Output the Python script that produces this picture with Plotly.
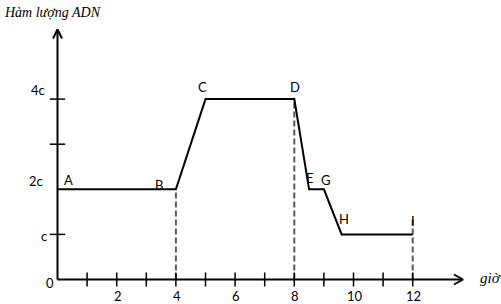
import plotly.graph_objects as go

# ---- data ----
time_h = [0, 4, 5, 8, 8.5, 9, 9.6, 12]
adn = [2, 2, 4, 4, 2, 2, 1, 1]
point_labels = ["A", "B", "C", "D", "E", "G", "H", "I"]

dashed_x = [4, 8, 12]
dashed_top = [2, 4, 1.4]

x_minor_ticks = list(range(1, 13))
x_tick_vals = [2, 4, 6, 8, 10, 12]
x_tick_text = ["2", "4", "6", "8", "10", "12"]

y_minor_ticks = [1, 3, 4]
y_tick_vals = [0, 1, 2, 4]
y_tick_text = ["0", "c", "2c", "4c"]

y_title = "Hàm lượng ADN"
x_title = "giờ"

# ---- geometry / style ----
W, H = 501, 304
X0, SX = 57.5, 29.6   # pixel of x=0, px per hour
Y0, SY = 279.5, 45.1  # pixel of y=0, px per c

def dx(px):
    return px / SX

def dy(px):
    return px / SY

xr = [-X0 / SX, (W - X0) / SX]
yr = [-(H - Y0) / SY, Y0 / SY]

x_axis_end = (463 - X0) / SX
y_axis_end = (Y0 - 29.5) / SY

label_shifts = [(10.5, 9), (-17, 4), (-3.5, 12), (0.7, 12), (1, 11), (2, 9), (2, 15), (0.5, 13)]
ytick_shifts = [(-7.5, -3.5), (-13.5, -1.5), (-21.5, 8), (-19.5, 9)]

sans = "Lato, 'Open Sans', sans-serif"
serif = "'Liberation Serif', 'DejaVu Serif', serif"

fig = go.Figure()

# dashed guides
for xv, top in zip(dashed_x, dashed_top):
    fig.add_trace(go.Scatter(x=[xv, xv], y=[0, top], mode="lines",
                             line=dict(color="#5a5a5a", width=2, dash="6px,3px"),
                             hoverinfo="skip", showlegend=False))

# axes
fig.add_trace(go.Scatter(x=[0, x_axis_end], y=[0, 0], mode="lines",
                         line=dict(color="black", width=2), showlegend=False))
fig.add_trace(go.Scatter(x=[0, 0], y=[0, y_axis_end], mode="lines",
                         line=dict(color="black", width=2), showlegend=False))
# arrowheads
fig.add_trace(go.Scatter(x=[x_axis_end - dx(9), x_axis_end, x_axis_end - dx(9)],
                         y=[dy(5), 0, -dy(5)], mode="lines",
                         line=dict(color="black", width=2), showlegend=False))
fig.add_trace(go.Scatter(x=[-dx(4.5), 0, dx(4.5)],
                         y=[y_axis_end - dy(9), y_axis_end, y_axis_end - dy(9)], mode="lines",
                         line=dict(color="black", width=2), showlegend=False))

# ticks
fig.add_trace(go.Scatter(x=x_minor_ticks, y=[0] * len(x_minor_ticks), mode="markers",
                         marker=dict(symbol="line-ns", size=10, line=dict(color="black", width=1.5)),
                         showlegend=False))
fig.add_trace(go.Scatter(x=[0] * len(y_minor_ticks), y=y_minor_ticks, mode="markers",
                         marker=dict(symbol="line-ew", size=11, line=dict(color="black", width=1.5)),
                         showlegend=False))

# main curve
fig.add_trace(go.Scatter(x=time_h, y=adn, mode="lines",
                         line=dict(color="black", width=2), showlegend=False))

annotations = []
for xv, yv, t, (sx, sy) in zip(time_h, adn, point_labels, label_shifts):
    annotations.append(dict(x=xv, y=yv, text=t, showarrow=False, xshift=sx, yshift=sy,
                            font=dict(family=sans, size=13, color="black")))
for v, t in zip(x_tick_vals, x_tick_text):
    annotations.append(dict(x=v, y=0, text=t, showarrow=False, xshift=1, yshift=-16.5,
                            font=dict(family=sans, size=13, color="black")))
for v, t, (sx, sy) in zip(y_tick_vals, y_tick_text, ytick_shifts):
    annotations.append(dict(x=0, y=v, text=t, showarrow=False, xshift=sx, yshift=sy,
                            font=dict(family=sans, size=13, color="black")))
annotations.append(dict(x=0, y=y_axis_end, text="<i>" + y_title + "</i>", showarrow=False,
                        xanchor="left", yanchor="middle", xshift=-X0 + 2, yshift=29.5 - 12,
                        font=dict(family=serif, size=14, color="black")))
annotations.append(dict(x=x_axis_end, y=0, text="<i>" + x_title + "</i>", showarrow=False,
                        xanchor="left", yanchor="middle", xshift=15, yshift=2,
                        font=dict(family=serif, size=15, color="black")))

fig.update_layout(
    width=W, height=H, margin=dict(l=0, r=0, t=0, b=0),
    paper_bgcolor="white", plot_bgcolor="white",
    xaxis=dict(range=xr, visible=False, fixedrange=True),
    yaxis=dict(range=yr, visible=False, fixedrange=True),
    annotations=annotations,
)

fig.write_html("out.html")
